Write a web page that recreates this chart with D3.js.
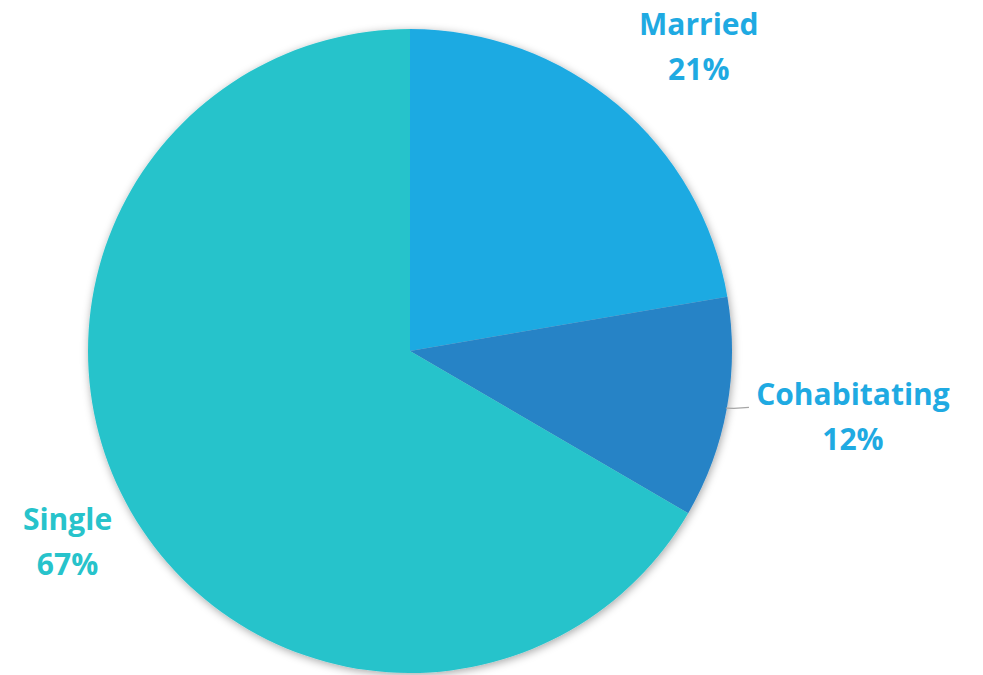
<!DOCTYPE html>
<html>
<head>
<meta charset="utf-8">
<script src="https://cdn.jsdelivr.net/npm/d3@7"></script>
<style>
  body { margin: 0; background: #fff; }
  text { font-family: "Open Sans", Lato, sans-serif; font-weight: bold; }
</style>
</head>
<body>
<script>
// slices, clockwise from 12 o'clock
var categories = ["Married", "Cohabitating", "Single"];
var shares = [22.3, 11.1, 66.6];
var pctLabels = ["21%", "12%", "67%"];
var sliceColors = ["#1FAAE2", "#2783C6", "#27C3CB"];
var textColors = ["#1FAAE2", "#1FAAE2", "#27C3CB"];

var W = 983, H = 675;
var CX = 410, CY = 351, R = 322;

var svg = d3.select("body").append("svg")
    .attr("width", W)
    .attr("height", H);

// soft shadow round the pie
var filter = svg.append("defs").append("filter")
    .attr("id", "shadow")
    .attr("x", "-10%").attr("y", "-10%")
    .attr("width", "120%").attr("height", "120%");
filter.append("feDropShadow")
    .attr("dx", 1).attr("dy", 2)
    .attr("stdDeviation", 4)
    .attr("flood-color", "#000")
    .attr("flood-opacity", 0.35);

var DATA = categories.map(function (c, i) {
    return {name: c, value: shares[i], label: pctLabels[i], i: i};
});

var pie = d3.pie().sort(null).value(function (d) { return d.value; });
var arc = d3.arc().innerRadius(0).outerRadius(R);
var arcs = pie(DATA);

var g = svg.append("g")
    .attr("transform", "translate(" + CX + "," + CY + ")");

var slices = g.append("g").attr("filter", "url(#shadow)");
slices.selectAll("path")
    .data(arcs)
    .enter().append("path")
    .attr("d", arc)
    .attr("fill", function (d) { return sliceColors[d.data.i]; });

// label boxes: placed beyond the rim at the mid angle, then nudged (best fit)
var labelR = [420, 440, 395];
var nudge = [[18, 11], [10, -18], [0, -12]];

function mid(d) { return (d.startAngle + d.endAngle) / 2; }
function labelPos(d) {
    var a = mid(d), r = labelR[d.data.i], n = nudge[d.data.i];
    return [Math.sin(a) * r + n[0], -Math.cos(a) * r + n[1]];
}

// leader line for the cohabitating label
var cohab = arcs[1];
var la = mid(cohab);
var p0 = [Math.sin(la) * (R - 1), -Math.cos(la) * (R - 1)];
var lp = labelPos(cohab);
var p2 = [lp[0] - 104, lp[1] - 4];
g.append("polyline")
    .attr("points", [p0, [p0[0] + 8, p2[1] + 1], p2].map(function (p) { return p.join(","); }).join(" "))
    .attr("fill", "none")
    .attr("stroke", "#A6A6A6")
    .attr("stroke-width", 1.3);

var labels = g.selectAll("g.lbl")
    .data(arcs)
    .enter().append("g")
    .attr("class", "lbl")
    .attr("transform", function (d) { return "translate(" + labelPos(d) + ")"; });

labels.append("text")
    .attr("text-anchor", "middle")
    .attr("y", -6)
    .attr("font-size", 30)
    .attr("fill", function (d) { return textColors[d.data.i]; })
    .text(function (d) { return d.data.name; });

labels.append("text")
    .attr("text-anchor", "middle")
    .attr("y", 39)
    .attr("font-size", 30)
    .attr("fill", function (d) { return textColors[d.data.i]; })
    .text(function (d) { return d.data.label; });
</script>
</body>
</html>
